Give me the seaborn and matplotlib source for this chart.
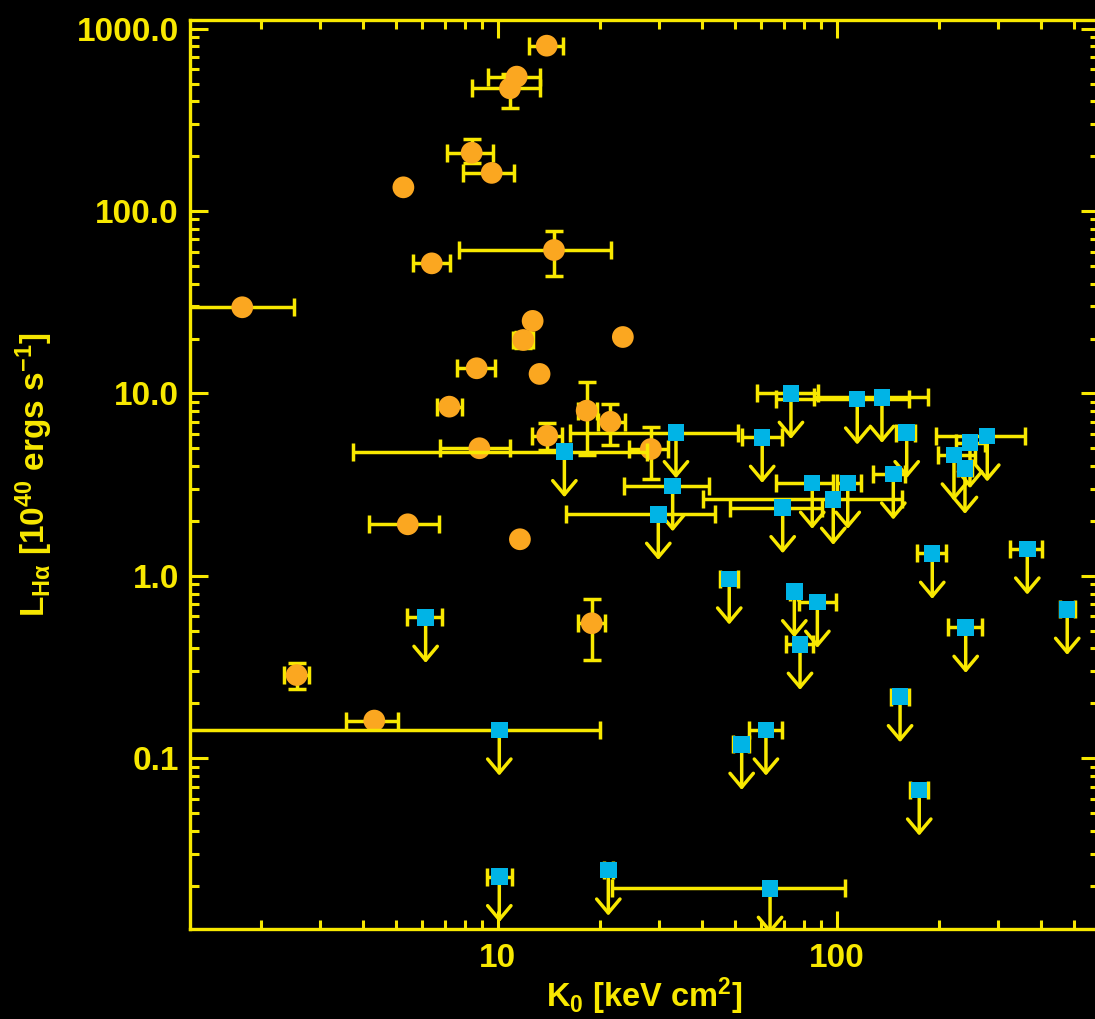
import numpy as np
import pandas as pd
import matplotlib
matplotlib.use("Agg")
import matplotlib.pyplot as plt
import seaborn as sns
from matplotlib.ticker import FixedLocator, FixedFormatter, LogLocator, NullFormatter

nan = np.nan

# Detected H-alpha emitters: central entropy K0 and H-alpha luminosity (1e40 erg/s)
det_k0 = [13.95, 11.38, 10.87, 8.38, 9.60, 5.27, 14.66, 6.39, 1.764, 12.68,
          11.90, 13.29, 23.4, 8.67, 7.20, 18.3, 21.5, 14.0, 8.83, 28.3,
          5.43, 11.63, 18.94, 2.553, 4.325]
det_lha = [807, 546, 471, 209, 162, 135, 61.2, 51.7, 29.7, 25.0,
           19.65, 12.8, 20.4, 13.75, 8.47, 8.05, 7.0, 5.87, 5.01, 4.96,
           1.918, 1.588, 0.550, 0.286, 0.161]
det_k0_lo = [12.39, 9.38, 8.38, 7.10, 7.91, nan, 7.70, 5.64, 1.0, nan,
             11.09, nan, nan, 7.57, 6.63, 17.26, 19.77, 12.6, 6.76, 24.45,
             4.17, nan, 17.22, 2.347, 3.567]
det_k0_hi = [15.62, 13.33, 13.33, 9.67, 11.17, nan, 21.6, 7.23, 2.507, nan,
             12.71, nan, nan, 9.82, 7.83, 19.63, 23.74, 15.45, 10.87, 31.86,
             6.72, nan, 20.7, 2.781, 5.09]
det_lha_lo = [nan, nan, 368.8, 182.8, nan, nan, 44.2, nan, nan, nan,
              17.8, nan, nan, nan, nan, 4.60, 5.22, 4.90, nan, 3.385,
              nan, nan, 0.346, 0.239, nan]
det_lha_hi = [nan, nan, 562, 247.5, nan, nan, 78.1, nan, nan, nan,
              21.7, nan, nan, nan, nan, 11.52, 8.73, 6.86, nan, 6.53,
              nan, nan, 0.744, 0.334, nan]

# Non-detections: upper limits on H-alpha luminosity
lim_k0 = [15.73, 33.57, 32.82, 29.77, 60.3, 73.3, 115.0, 136.0, 160.9, 146.9,
          84.7, 107.8, 97.7, 69.3, 191.4, 365, 48.2, 75.0, 87.7, 77.96,
          240.2, 478.7, 153.8, 61.85, 52.45, 175.2, 6.13, 10.11, 10.11, 21.2,
          63.6, 247.3, 278.1, 221.8, 239.0]
lim_lha = [4.80, 6.10, 3.12, 2.176, 5.75, 10.02, 9.33, 9.53, 6.10, 3.62,
           3.22, 3.22, 2.63, 2.366, 1.33, 1.404, 0.962, 0.819, 0.717, 0.4217,
           0.5226, 0.656, 0.2177, 0.1429, 0.1193, 0.0670, 0.593, 0.1429, 0.02244, 0.0244,
           0.01937, 5.375, 5.85, 4.60, 3.89]
lim_k0_lo = [3.735, 16.34, 23.58, 15.88, 52.5, 58.1, 66.1, 85.7, 149.6, 128.2,
             66.1, 100.2, 40.25, 48.45, 172.2, 324.5, 45.3, 72.8, 77.6, 70.7,
             212.6, 456, 145, 55.2, 49.4, 165, 5.39, 1.0, 9.28, 20.59,
             21.7, 225, 196.3, 199.1, 228]
lim_k0_hi = [27.5, 51.26, 42.1, 43.75, 68.8, 88.2, 163.8, 186.3, 170.2, 159.1,
             97.7, 118, 155.5, 90.3, 209.7, 402.5, 51.1, 77.0, 99.5, 85.3,
             267.7, 505, 163, 68.8, 55.3, 186, 6.865, 20.04, 11.0, 21.88,
             105.8, 273.8, 359.4, 255.9, 250.6]

x_ticks = [10, 100]
x_tick_labels = ["10", "100"]
y_ticks = [0.1, 1, 10, 100, 1000]
y_tick_labels = ["0.1", "1.0", "10.0", "100.0", "1000.0"]

YELLOW = "#F8E800"
ORANGE = "#FBA720"
CYAN = "#00B4E6"
ARROW_DROP = 10 ** -0.25   # length of the upper-limit arrows, in dex
LW = 2.5

sns.set_style("ticks")
plt.rcParams["font.family"] = ["Liberation Sans", "DejaVu Sans"]
plt.rcParams["font.weight"] = "bold"
plt.rcParams["mathtext.fontset"] = "custom"
plt.rcParams["mathtext.rm"] = "Liberation Sans:bold"
plt.rcParams["mathtext.bf"] = "Liberation Sans:bold"
plt.rcParams["mathtext.it"] = "Liberation Sans:bold"
plt.rcParams["mathtext.default"] = "bf"

det = pd.DataFrame({"k0": det_k0, "lha": det_lha,
                    "k0_lo": det_k0_lo, "k0_hi": det_k0_hi,
                    "lha_lo": det_lha_lo, "lha_hi": det_lha_hi})
lim = pd.DataFrame({"k0": lim_k0, "lha": lim_lha,
                    "k0_lo": lim_k0_lo, "k0_hi": lim_k0_hi})

fig = plt.figure(figsize=(10.95, 10.19), dpi=100, facecolor="black")
ax = fig.add_axes([190 / 1095, 1 - 929 / 1019, 909 / 1095, 909 / 1019])
ax.set_facecolor("black")
ax.set_xscale("log")
ax.set_yscale("log")

err_kw = dict(fmt="none", ecolor=YELLOW, elinewidth=LW, capsize=6.2, capthick=LW)


def draw_errors(df, zorder):
    m = df["k0_lo"].notna()
    if m.any():
        d = df[m]
        ax.errorbar(d["k0"], d["lha"],
                    xerr=[d["k0"] - d["k0_lo"], d["k0_hi"] - d["k0"]],
                    zorder=zorder, **err_kw)
    if "lha_lo" in df:
        m = df["lha_lo"].notna()
        if m.any():
            d = df[m]
            ax.errorbar(d["k0"], d["lha"],
                        yerr=[d["lha"] - d["lha_lo"], d["lha_hi"] - d["lha"]],
                        zorder=zorder, **err_kw)


# detections
draw_errors(det, 2)
sns.scatterplot(data=det, x="k0", y="lha", marker="o", s=245, color=ORANGE,
                edgecolor="none", linewidth=0, ax=ax, zorder=3, legend=False)

# upper limits with downward arrows
draw_errors(lim, 4)
for x, y in zip(lim["k0"], lim["lha"]):
    a = ax.annotate("", xy=(x, y * ARROW_DROP), xytext=(x, y),
                    arrowprops=dict(arrowstyle="->,head_length=0.5,head_width=0.42",
                                    color=YELLOW, lw=LW, shrinkA=0, shrinkB=0,
                                    mutation_scale=20),
                    annotation_clip=False, zorder=4)
    a.arrow_patch.set_clip_on(True)
    a.arrow_patch.set_clip_box(ax.bbox)
sns.scatterplot(data=lim, x="k0", y="lha", marker="s", s=140, color=CYAN,
                edgecolor="none", linewidth=0, ax=ax, zorder=5, legend=False)

ax.set_xlim(1.237, 594)
ax.set_ylim(0.01159, 1116)

ax.xaxis.set_major_locator(FixedLocator(x_ticks))
ax.xaxis.set_major_formatter(FixedFormatter(x_tick_labels))
ax.yaxis.set_major_locator(FixedLocator(y_ticks))
ax.yaxis.set_major_formatter(FixedFormatter(y_tick_labels))
for axis in (ax.xaxis, ax.yaxis):
    axis.set_minor_locator(LogLocator(base=10, subs=np.arange(2, 10), numticks=30))
    axis.set_minor_formatter(NullFormatter())

ax.tick_params(which="both", direction="in", top=True, right=True,
               color=YELLOW, width=2.2, labelcolor=YELLOW, labelsize=24)
ax.tick_params(which="major", length=13)
ax.tick_params(which="minor", length=6.7)
ax.tick_params(axis="y", pad=8)
ax.tick_params(axis="x", pad=10)
for lab in ax.get_xticklabels() + ax.get_yticklabels():
    lab.set_fontweight("bold")
for sp in ax.spines.values():
    sp.set_color(YELLOW)
    sp.set_linewidth(2.4)

ax.set_xlabel(r"K$_{0}$ [keV cm$^{2}$]", color=YELLOW, fontsize=23.5, fontweight="bold")
ax.set_ylabel(r"L$_{H\alpha}$ [10$^{40}$ ergs s$^{-1}$]", color=YELLOW,
              fontsize=24, fontweight="bold")
ax.xaxis.set_label_coords(0.5, -0.051)
ax.yaxis.set_label_coords(-0.148, 0.5)

fig.savefig("out.png", dpi=100, facecolor="black")
